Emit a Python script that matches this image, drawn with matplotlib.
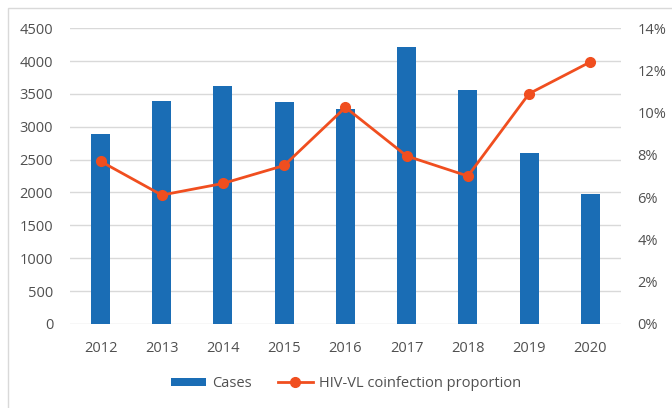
import matplotlib.pyplot as plt
from matplotlib.patches import Rectangle
from matplotlib.ticker import FuncFormatter
import numpy as np

plt.rcParams['font.family'] = ['Open Sans', 'DejaVu Sans']

# data
years = ['2012', '2013', '2014', '2015', '2016', '2017', '2018', '2019', '2020']
cases = [2890, 3390, 3620, 3380, 3270, 4220, 3560, 2600, 1980]
coinfection = [7.7, 6.1, 6.65, 7.5, 10.25, 7.95, 7.0, 10.9, 12.4]

BAR_COLOR = '#1a6db5'
LINE_COLOR = '#f04e1f'
GRID_COLOR = '#d9d9d9'
TEXT_COLOR = '#505050'

fig = plt.figure(figsize=(6.72, 4.08), dpi=100)
ax = fig.add_axes([0.104, 0.206, 0.82, 0.725])
ax2 = ax.twinx()

x = np.arange(len(years))
ax.bar(x, cases, width=0.31, color=BAR_COLOR, label='Cases', zorder=2)
ax2.plot(x, coinfection, color=LINE_COLOR, lw=2, marker='o', markersize=7,
         label='HIV-VL coinfection proportion', zorder=3)

ax.set_xlim(-0.5, len(years) - 0.5)
ax.set_ylim(0, 4500)
ax.set_yticks(range(0, 4501, 500))
ax2.set_ylim(0, 14)
ax2.set_yticks(range(0, 15, 2))
ax2.yaxis.set_major_formatter(FuncFormatter(lambda v, p: f'{v:.0f}%'))

ax.set_xticks(x)
ax.set_xticklabels(years)
ax.grid(axis='y', color=GRID_COLOR, lw=1, zorder=0)
ax.set_axisbelow(True)

for a in (ax, ax2):
    for s in a.spines.values():
        s.set_visible(False)
    a.tick_params(length=0, labelsize=10.5, colors=TEXT_COLOR)
ax.tick_params(axis='y', pad=12)
ax.tick_params(axis='x', pad=12)
ax2.tick_params(axis='y', pad=12)

# chart border
fig.patches.append(Rectangle((8 / 672, -0.05), 1.0, 1.05 - 8 / 408,
                             transform=fig.transFigure, fill=False,
                             edgecolor='#d9d9d9', lw=1))

h1, l1 = ax.get_legend_handles_labels()
h2, l2 = ax2.get_legend_handles_labels()
fig.legend(h1 + h2, l1 + l2, loc='center', bbox_to_anchor=(0.515, 0.06), ncol=2,
           frameon=False, fontsize=10.5, handlelength=2.4, handleheight=0.5,
           handletextpad=0.4, columnspacing=1.8, labelcolor=TEXT_COLOR)

fig.savefig('out.png', dpi=100)
